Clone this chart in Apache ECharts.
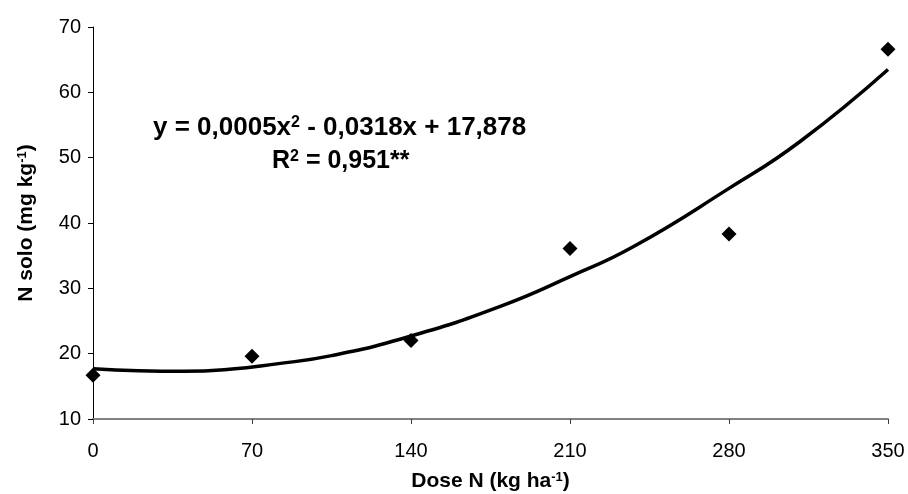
<!DOCTYPE html>
<html>
<head>
<meta charset="utf-8">
<title>N solo x Dose N</title>
<script src="https://cdn.jsdelivr.net/npm/echarts@6/dist/echarts.min.js"></script>
<style>
  html, body { margin: 0; padding: 0; background: #fff; }
  #chart { width: 908px; height: 494px; }
</style>
</head>
<body>
<div id="chart"></div>
<script>
// observed points (Dose N, N solo)
var doses = [0, 70, 140, 210, 280, 350];
var nSolo = [16.7, 19.6, 22.0, 36.1, 38.3, 66.6];

// trend line
var trendX = [0, 20, 40, 60, 80, 105, 140, 179, 210, 238, 280, 311, 350];
var trendY = [17.7, 17.4, 17.3, 17.6, 18.4, 19.7, 22.7, 27.2, 31.8, 36.4, 45.3, 52.4, 63.5];

// axis ticks
var xTicks = { min: 0, max: 350, step: 70 };
var yTicks = { min: 10, max: 70, step: 10 };

var FONT = '"Liberation Sans", Arial, sans-serif';

function pairs(xs, ys) {
  return xs.map(function (x, i) { return [x, ys[i]]; });
}

// estilo do texto com expoente
function supRich(size, supSize, key) {
  var b = { fontFamily: FONT, fontWeight: 'bold', fontSize: size };
  var s = { fontFamily: FONT, fontWeight: 'bold', fontSize: supSize, verticalAlign: 'top' };
  b[key] = '#000';
  s[key] = '#000';
  return { b: b, s: s };
}

var chart = echarts.init(document.getElementById('chart'));

chart.setOption({
  backgroundColor: '#ffffff',
  animation: false,
  grid: { left: 93, right: 20, top: 27, bottom: 75, containLabel: false, outerBoundsMode: 'none' },
  xAxis: {
    type: 'value',
    min: xTicks.min,
    max: xTicks.max,
    interval: xTicks.step,
    name: '{b|Dose N (kg ha}{s|-1}{b|)}',
    nameLocation: 'middle',
    nameGap: 52,
    nameTextStyle: { rich: supRich(21, 13, 'color') },
    axisLine: { lineStyle: { color: '#808080', width: 2 } },
    axisTick: { length: 5, lineStyle: { color: '#404040' } },
    axisLabel: { fontFamily: FONT, fontSize: 20, color: '#000', margin: 22 },
    splitLine: { show: false }
  },
  yAxis: {
    type: 'value',
    min: yTicks.min,
    max: yTicks.max,
    interval: yTicks.step,
    name: '{b|N solo (mg kg}{s|-1}{b|)}',
    nameLocation: 'middle',
    nameGap: 56,
    nameRotate: 90,
    nameTextStyle: { rich: supRich(21, 13, 'color') },
    axisLine: { show: true, lineStyle: { color: '#000', width: 1 } },
    axisTick: { show: true, length: 5, lineStyle: { color: '#000' } },
    axisLabel: { fontFamily: FONT, fontSize: 20, color: '#000', margin: 12 },
    splitLine: { show: false }
  },
  graphic: [
    {
      type: 'text',
      left: 153,
      top: 115,
      style: {
        text: '{b|y = 0,0005x}{s|2}{b| - 0,0318x + 17,878}',
        rich: supRich(26, 16, 'fill')
      }
    },
    {
      type: 'text',
      left: 272,
      top: 149,
      style: {
        text: '{b|R}{s|2}{b| = 0,951**}',
        rich: supRich(25, 16, 'fill')
      }
    }
  ],
  series: [
    {
      name: 'trend',
      type: 'line',
      data: pairs(trendX, trendY),
      smooth: true,
      showSymbol: false,
      lineStyle: { color: '#000', width: 3.5 },
      z: 2
    },
    {
      name: 'N solo',
      type: 'scatter',
      data: pairs(doses, nSolo),
      symbol: 'diamond',
      symbolSize: 15,
      itemStyle: { color: '#000', opacity: 1 },
      z: 3
    }
  ]
});
</script>
</body>
</html>
